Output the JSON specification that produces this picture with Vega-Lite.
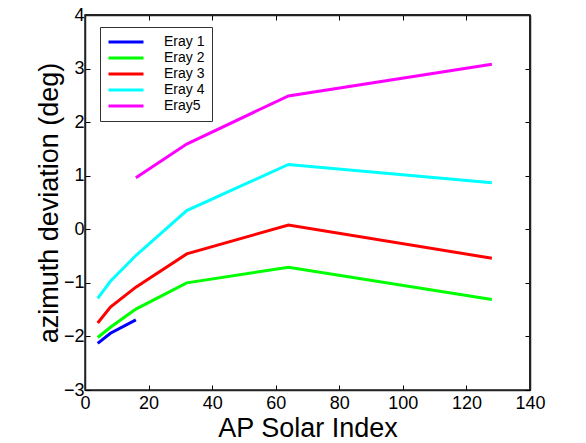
{
  "$schema": "https://vega.github.io/schema/vega-lite/v6.json",
  "width": 445,
  "height": 375,
  "autosize": {"type": "none"},
  "padding": {"left": 85, "top": 15, "right": 56, "bottom": 53},
  "background": "white",
  "config": {
    "font": "Liberation Sans",
    "view": {"stroke": "#222222", "strokeWidth": 1.5},
    "axis": {
      "grid": false,
      "domainColor": "#222222",
      "domainWidth": 1.5,
      "tickColor": "black",
      "labelColor": "black",
      "titleColor": "black",
      "tickSize": -5,
      "labelFontSize": 18,
      "labelFont": "Liberation Sans",
      "titleFont": "Liberation Sans",
      "titleFontSize": 27,
      "titleFontWeight": "normal",
      "labelFlush": false,
      "labelOverlap": false
    }
  },
  "data": {
    "values": [
      {"series": "Eray 1", "x": 4, "y": -2.13},
      {"series": "Eray 1", "x": 8, "y": -1.94},
      {"series": "Eray 1", "x": 16, "y": -1.69},
      {"series": "Eray 2", "x": 4, "y": -2.02},
      {"series": "Eray 2", "x": 8, "y": -1.83},
      {"series": "Eray 2", "x": 16, "y": -1.49},
      {"series": "Eray 2", "x": 32, "y": -1.0},
      {"series": "Eray 2", "x": 64, "y": -0.71},
      {"series": "Eray 2", "x": 128, "y": -1.31},
      {"series": "Eray 3", "x": 4, "y": -1.75},
      {"series": "Eray 3", "x": 8, "y": -1.45},
      {"series": "Eray 3", "x": 16, "y": -1.08},
      {"series": "Eray 3", "x": 32, "y": -0.46},
      {"series": "Eray 3", "x": 64, "y": 0.08},
      {"series": "Eray 3", "x": 128, "y": -0.54},
      {"series": "Eray 4", "x": 4, "y": -1.29},
      {"series": "Eray 4", "x": 8, "y": -0.97},
      {"series": "Eray 4", "x": 16, "y": -0.49},
      {"series": "Eray 4", "x": 32, "y": 0.35},
      {"series": "Eray 4", "x": 64, "y": 1.21},
      {"series": "Eray 4", "x": 128, "y": 0.87},
      {"series": "Eray5", "x": 16, "y": 0.96},
      {"series": "Eray5", "x": 32, "y": 1.59},
      {"series": "Eray5", "x": 64, "y": 2.49},
      {"series": "Eray5", "x": 128, "y": 3.08}
    ]
  },
  "layer": [
    {
      "mark": {"type": "line", "strokeWidth": 3, "clip": true},
      "encoding": {
        "x": {
          "field": "x", "type": "quantitative",
          "scale": {"domain": [0, 140], "nice": false, "zero": false},
          "axis": {"values": [0, 20, 40, 60, 80, 100, 120, 140], "title": "AP Solar Index", "labelPadding": 9, "titlePadding": 3}
        },
        "y": {
          "field": "y", "type": "quantitative",
          "scale": {"domain": [-3, 4], "nice": false, "zero": false},
          "axis": {"values": [-3, -2, -1, 0, 1, 2, 3, 4], "title": "azimuth deviation (deg)", "labelPadding": 6, "titlePadding": 0}
        },
        "color": {
          "field": "series", "type": "nominal",
          "scale": {
            "domain": ["Eray 1", "Eray 2", "Eray 3", "Eray 4", "Eray5"],
            "range": ["#0000ff", "#00ff00", "#ff0000", "#00ffff", "#ff00ff"]
          },
          "legend": {
            "title": null,
            "orient": "none",
            "legendX": 15,
            "legendY": 12,
            "fillColor": "white",
            "strokeColor": "#333333",
            "padding": 7,
            "symbolType": "stroke",
            "symbolSize": 1225,
            "symbolStrokeWidth": 3,
            "clipHeight": 16,
            "labelOffset": 19,
            "labelFontSize": 14,
            "labelFont": "Liberation Sans",
            "labelColor": "black",
            "rowPadding": 0
          }
        }
      }
    },
    {
      "mark": {"type": "point", "opacity": 0},
      "encoding": {
        "x": {
          "field": "x", "type": "quantitative",
          "axis": {"orient": "top", "values": [0, 20, 40, 60, 80, 100, 120, 140], "labelOpacity": 0, "title": null, "domainColor": "#222222", "tickColor": "black"}
        },
        "y": {
          "field": "y", "type": "quantitative",
          "axis": {"orient": "right", "values": [-3, -2, -1, 0, 1, 2, 3, 4], "labelOpacity": 0, "title": null, "domainColor": "#222222", "tickColor": "black"}
        }
      }
    },
    {
      "mark": {"type": "rule", "color": "#222222", "strokeWidth": 1.5},
      "encoding": {"y": {"datum": 4, "type": "quantitative", "axis": null}}
    },
    {
      "mark": {"type": "rule", "color": "#222222", "strokeWidth": 1.5},
      "encoding": {"x": {"datum": 140, "type": "quantitative", "axis": null}}
    }
  ],
  "resolve": {"axis": {"x": "independent", "y": "independent"}}
}
